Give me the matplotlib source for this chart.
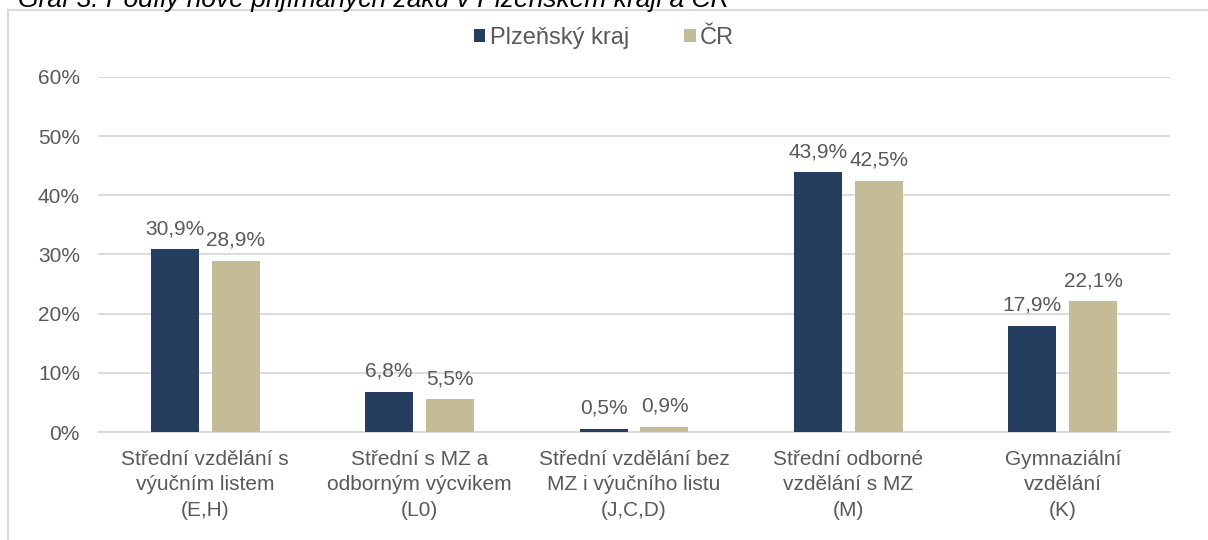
import matplotlib.pyplot as plt
import numpy as np

categories = [
    "Střední vzdělání s\nvýučním listem\n(E,H)",
    "Střední s MZ a\nodborným výcvikem\n(L0)",
    "Střední vzdělání bez\nMZ i výučního listu\n(J,C,D)",
    "Střední odborné\nvzdělání s MZ\n(M)",
    "Gymnaziální\nvzdělání\n(K)",
]
plzen = [0.309, 0.068, 0.005, 0.439, 0.179]
cr = [0.289, 0.055, 0.009, 0.425, 0.221]
series_names = ["Plzeňský kraj", "ČR"]

DARK = "#253d5e"
TAN = "#c4bc96"
TEXT = "#595959"
GRID = "#d9d9d9"

plt.rcParams["font.family"] = ["Liberation Sans", "DejaVu Sans"]

fig = plt.figure(figsize=(12.08, 5.40), dpi=100)

# outer chart frame (only top and left edges visible)
fig.add_artist(plt.Line2D([8 / 1208, 1.0], [1 - 10 / 540, 1 - 10 / 540],
                          transform=fig.transFigure, color=GRID, lw=1.5))
fig.add_artist(plt.Line2D([8 / 1208, 8 / 1208], [0, 1 - 10 / 540],
                          transform=fig.transFigure, color=GRID, lw=1.5))

fig.text(18 / 1208, 1 - 7 / 540, "Graf 3: Podíly nově přijímaných žáků v Plzeňském kraji a ČR",
         fontsize=19, style="italic", color="black", va="baseline", ha="left")

ax = fig.add_axes([98 / 1208, 108 / 540, (1170 - 98) / 1208, (432 - 77) / 540])

x = np.arange(len(categories))
w = 0.224
off = 0.142
b1 = ax.bar(x - off, plzen, w, color=DARK, label=series_names[0], zorder=3)
b2 = ax.bar(x + off, cr, w, color=TAN, label=series_names[1], zorder=3)

for bars, vals in [(b1, plzen), (b2, cr)]:
    for rect, v in zip(bars, vals):
        ax.annotate(f"{v * 100:.1f}%".replace(".", ","),
                    (rect.get_x() + rect.get_width() / 2, v),
                    xytext=(0, 8), textcoords="offset points",
                    ha="center", va="bottom", fontsize=15, color=TEXT)

ax.set_xlim(-0.5, len(categories) - 0.5)
ax.set_ylim(0, 0.6)
ticks = np.arange(0, 0.61, 0.1)
ax.set_yticks(ticks)
ax.set_yticklabels([f"{int(round(t * 100))}%" for t in ticks])
ax.set_xticks(x)
ax.set_xticklabels(categories, linespacing=1.42)
ax.tick_params(axis="both", length=0, labelsize=15, labelcolor=TEXT)
ax.tick_params(axis="y", pad=13)
ax.tick_params(axis="x", pad=13)
ax.grid(axis="y", color=GRID, lw=1.3, zorder=0)
for s in ["top", "right", "left"]:
    ax.spines[s].set_visible(False)
ax.spines["bottom"].set_color(GRID)
ax.spines["bottom"].set_linewidth(1.3)

leg = ax.legend(loc="center", bbox_to_anchor=(0.5, 1 - 38 / 540), bbox_transform=fig.transFigure,
                ncol=2, frameon=False, fontsize=17, handlelength=0.5, handleheight=0.5,
                handletextpad=0.2, columnspacing=2.3)
for t in leg.get_texts():
    t.set_color(TEXT)

fig.savefig("out.png", dpi=100)
